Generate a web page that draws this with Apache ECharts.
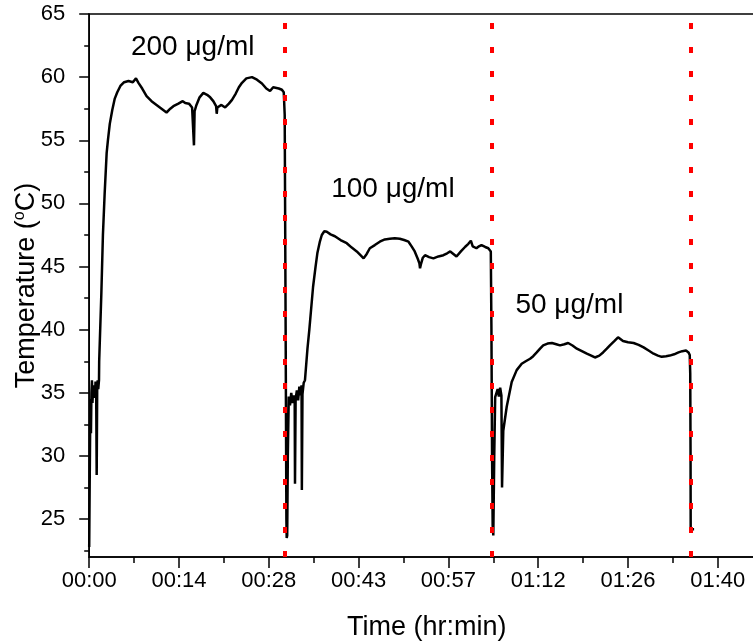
<!DOCTYPE html>
<html>
<head>
<meta charset="utf-8">
<script src="https://cdn.jsdelivr.net/npm/echarts@6/dist/echarts.min.js"></script>
<style>html,body{margin:0;padding:0;background:#fff}#c{width:753px;height:644px}</style>
</head>
<body>
<div id="c"></div>
<script>
// ---- data (time in minutes, temperature in °C) ----
var timeMin = [
 0,0.08,0.15,0.22,0.28,0.36,0.44,0.52,0.62,0.72,0.82,0.92,1.02,1.12,1.20,1.28,1.36,1.45,1.57,1.6,1.95,2.2,2.48,2.8,3.0,3.3,3.7,4.1,4.5,5.0,5.6,6.3,7.0,7.5,7.9,8.5,9.2,10.0,10.8,11.6,12.4,13.0,13.5,14.3,15.0,15.4,16.0,16.5,16.75,16.8,16.9,17.2,17.7,18.3,18.9,19.4,19.9,20.35,20.45,20.55,21.2,21.8,22.4,22.9,23.5,24.0,24.5,25.2,26.1,26.9,27.7,28.4,29.0,29.5,29.8,30.4,30.9,31.2,31.35,31.5,31.62,31.67,31.75,
 31.85,32.0,32.2,32.4,32.6,32.8,32.95,33.0,33.1,33.3,33.5,33.7,33.9,34.05,34.1,34.2,34.4,34.6,35.0,35.3,35.9,36.3,36.6,37.0,37.3,37.7,38.1,38.7,39.4,40.3,41.3,42.1,42.9,43.5,44.0,44.5,45.0,45.8,46.6,47.4,48.2,49.0,49.8,50.5,51.2,51.7,52.2,52.7,52.95,53.05,53.2,53.5,53.85,54.5,55.2,56.0,56.8,57.4,57.9,58.4,58.9,59.6,60.3,60.8,61.2,61.5,62.1,62.5,62.9,63.5,64.0,64.4,64.5,64.6,64.7,64.8,
 64.95,65.1,65.3,65.5,65.7,65.9,66.1,66.2,66.4,66.95,67.75,68.55,69.35,70.0,70.7,71.2,71.76,72.3,72.8,73.5,74.2,74.9,75.5,76.2,76.8,77.5,78.2,79.0,79.8,80.5,81.1,81.8,82.4,83.0,83.5,84.2,84.8,85.6,86.4,87.3,88.1,88.9,89.7,90.5,91.2,91.8,92.5,93.1,93.8,94.5,95.1,95.7,96.1,96.3,96.38,96.43,96.45,96.7,97.0
];
var tempC = [
 22.8,28.0,32.0,34.5,31.8,35.0,36.0,34.2,35.3,34.6,35.6,34.8,35.9,35.0,28.5,35.2,36.0,35.3,36.0,37.5,42.9,47.5,50.8,54.0,55.0,56.3,57.4,58.3,58.8,59.3,59.6,59.7,59.6,59.9,59.55,59.1,58.5,58.1,57.8,57.5,57.2,57.5,57.7,57.9,58.1,57.95,57.9,57.6,57.7,54.6,57.3,57.8,58.4,58.75,58.6,58.4,58.1,57.7,57.1,57.6,57.8,57.6,57.9,58.2,58.7,59.2,59.55,59.9,60.0,59.8,59.5,59.1,58.9,59.2,59.3,59.1,59.0,58.8,57.0,40.0,25.0,23.5,23.7,
 30.0,34.7,34.0,35.0,34.2,34.8,34.5,27.8,34.5,35.2,34.4,35.5,34.8,35.6,27.3,34.9,35.8,36.0,38.5,40.0,43.4,45.0,46.1,47.0,47.5,47.8,47.75,47.55,47.4,47.1,46.85,46.5,46.2,45.9,45.65,46.0,46.45,46.7,46.97,47.15,47.2,47.25,47.2,47.1,46.97,46.6,46.2,45.6,45.25,44.86,45.2,45.7,45.9,45.75,45.65,45.8,45.9,46.05,46.2,46.0,45.8,46.2,46.57,46.8,47.05,46.6,46.45,46.6,46.7,46.55,46.45,46.2,40.0,30.0,24.5,23.7,
 30.0,34.66,34.8,35.3,34.7,35.4,34.8,27.5,32.0,33.9,35.85,36.8,37.3,37.5,37.7,37.9,38.2,38.5,38.76,38.9,38.95,38.85,38.76,38.85,38.95,38.75,38.5,38.3,38.1,37.95,37.8,37.95,38.2,38.5,38.76,39.1,39.4,39.1,39.0,38.95,38.8,38.6,38.35,38.1,37.95,37.85,37.9,37.95,38.05,38.2,38.3,38.35,38.2,38.0,36.5,30.0,24.2,24.3,24.2
];
var markerTimes = [31.4, 64.6, 96.4];
var annoTexts = ['200 μg/ml', '100 μg/ml', '50 μg/ml'];
var annoTime = [16.6, 48.7, 77.0];
var annoTemp = [62.35, 51.1, 41.95];
var xTickLabels = ['00:00','00:14','00:28','00:43','00:57','01:12','01:26','01:40'];
var yMajor = [25,30,35,40,45,50,55,60,65];
var yMinor = [22.5,27.5,32.5,37.5,42.5,47.5,52.5,57.5,62.5];
var xMin = 0, xMax = 108.24, xStep = 14.4;

var FONT = 'Liberation Sans, Arial, sans-serif';
var series = [];
var pts = timeMin.map(function (t, i) { return [t, tempC[i]]; });
series.push({
  type: 'line', data: pts, showSymbol: false, symbol: 'none',
  lineStyle: { color: '#000', width: 2.5 }, z: 3,
  markLine: {
    silent: true, symbol: ['none', 'none'], label: { show: false },
    lineStyle: { color: '#ff0000', width: 4, type: [6, 18] },
    data: markerTimes.map(function (t) { return { xAxis: t }; }), z: 4
  }
});
series.push({
  type: 'scatter', symbolSize: 0, silent: true, z: 5,
  itemStyle: { opacity: 1 },
  data: annoTexts.map(function (s, i) { return { name: s, value: [annoTime[i], annoTemp[i]] }; }),
  label: { show: true, position: 'inside', formatter: '{b}', color: '#000', opacity: 1, textBorderWidth: 0, fontSize: 28, fontFamily: FONT }
});

var GRID = { left: 89.2, top: 14, bottom: 87, width: 675, containLabel: false, outerBoundsMode: 'none' };
var chart = echarts.init(document.getElementById('c'), null, { renderer: 'canvas' });
chart.setOption({
  animation: false,
  backgroundColor: '#fff',
  grid: [
    Object.assign({ show: true, borderColor: '#000', borderWidth: 1.5 }, GRID),
    Object.assign({ show: false }, GRID)
  ],
  xAxis: [{
    gridIndex: 0, type: 'value', min: xMin, max: xMax, interval: xStep,
    axisLine: { show: true, lineStyle: { color: '#000', width: 1.5 } },
    axisTick: { show: true, length: 11, lineStyle: { color: '#000', width: 1.5 } },
    minorTick: { show: true, splitNumber: 2, length: 6, lineStyle: { color: '#000', width: 1.5 } },
    splitLine: { show: false }, minorSplitLine: { show: false },
    axisLabel: {
      color: '#000', fontSize: 22, fontFamily: FONT, margin: 13,
      formatter: function (v) { var k = Math.round(v / xStep); return Math.abs(v - k * xStep) < 1e-6 ? (xTickLabels[k] || '') : ''; }
    },
    name: 'Time (hr:min)', nameLocation: 'middle', nameGap: 57, nameMoveOverlap: false,
    nameTextStyle: { color: '#000', fontSize: 27, fontFamily: FONT }
  }, {
    gridIndex: 1, type: 'value', min: xMin, max: xMax, show: false
  }],
  yAxis: [{
    gridIndex: 0, type: 'value', min: 22, max: 65,
    axisLine: { show: true, lineStyle: { color: '#000', width: 1.5 } },
    axisTick: { show: true, length: 10, customValues: yMajor, lineStyle: { color: '#000', width: 1.5 } },
    axisLabel: { color: '#000', fontSize: 22, fontFamily: FONT, margin: 24, customValues: yMajor },
    splitLine: { show: false },
    name: 'Temperature ({sup|o}C)', nameLocation: 'middle', nameGap: 48, nameMoveOverlap: false,
    nameTextStyle: { color: '#000', fontSize: 27, fontFamily: FONT,
      rich: { sup: { fontSize: 16, verticalAlign: 'top', padding: [0, 0, 14, 0], fontFamily: FONT, color: '#000' } } }
  }, {
    gridIndex: 1, type: 'value', min: 22, max: 65, position: 'left',
    axisLine: { show: false },
    axisTick: { show: true, length: 5, customValues: yMinor, lineStyle: { color: '#000', width: 1.5 } },
    axisLabel: { show: false }, splitLine: { show: false }
  }],
  series: series
});
</script>
</body>
</html>
